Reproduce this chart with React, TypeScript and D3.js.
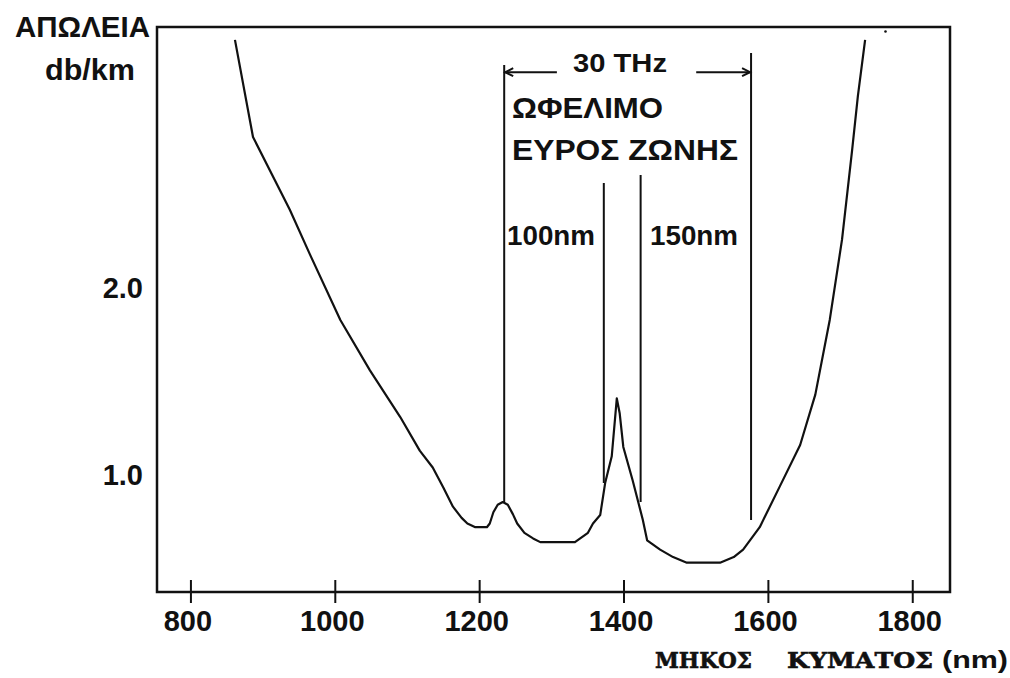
import React, { useEffect, useRef } from 'react';
import * as d3 from 'd3';

// attenuation curve of silica fibre, wavelength (nm) vs loss (dB/km)
const wavelength = [
  861, 886, 937, 965, 1007, 1048, 1090, 1117, 1135, 1150, 1163, 1175, 1183, 1194, 1210, 1214,
  1219, 1225, 1232, 1239, 1246, 1252, 1262, 1274, 1284, 1332, 1350, 1357, 1367, 1374, 1383,
  1390, 1394, 1399, 1412, 1426, 1432, 1450, 1468, 1487, 1533, 1552, 1565, 1588, 1616, 1644,
  1665, 1685, 1702, 1716, 1724, 1734
];
const loss = [
  3.33, 2.81, 2.42, 2.18, 1.83, 1.56, 1.31, 1.13, 1.04, 0.93, 0.83, 0.77, 0.74, 0.72, 0.72, 0.74,
  0.8, 0.84, 0.855, 0.84, 0.79, 0.74, 0.69, 0.66, 0.64, 0.64, 0.69, 0.74, 0.785, 0.96, 1.1,
  1.41, 1.33, 1.15, 0.97, 0.76, 0.65, 0.6, 0.56, 0.53, 0.53, 0.56, 0.6, 0.72, 0.94, 1.16,
  1.43, 1.83, 2.26, 2.74, 3.03, 3.33
];

const xTicks = [800, 1000, 1200, 1400, 1600, 1800];
const yTicks = [1.0, 2.0];

// vertical markers: wavelength, top, bottom (dB/km)
const markerNm = [1234, 1372, 1423, 1576];
const markerTop = [3.196, 2.564, 2.607, 3.26];
const markerBottom = [0.855, 0.957, 0.855, 0.759];

// 30 THz arrow, in data units
const arrowLevel = 3.157;
const arrowLeft = [1234, 1307];
const arrowRight = [1500, 1576];

const W = 1010;
const H = 678;
const frame = { left: 157, right: 950, top: 27, bottom: 592 };
const sans = '"Liberation Sans", Arial, sans-serif';
const slab = '"DejaVu Serif", serif';

export default function App() {
  const ref = useRef<SVGSVGElement | null>(null);

  useEffect(() => {
    document.body.style.margin = '0';
    const svg = d3.select(ref.current);
    svg.selectAll('*').remove();

    const x = d3.scaleLinear().domain([753, 1851.6]).range([frame.left, frame.right]);
    const y = d3.scaleLinear().domain([0.373, 3.399]).range([frame.bottom, frame.top]);

    svg.append('rect').attr('width', W).attr('height', H).attr('fill', '#fff');

    // frame
    svg
      .append('rect')
      .attr('x', frame.left)
      .attr('y', frame.top)
      .attr('width', frame.right - frame.left)
      .attr('height', frame.bottom - frame.top)
      .attr('fill', 'none')
      .attr('stroke', '#111')
      .attr('stroke-width', 2.5);

    // x ticks and labels
    const xt = svg.append('g');
    xt.selectAll('line')
      .data(xTicks)
      .enter()
      .append('line')
      .attr('x1', d => x(d))
      .attr('x2', d => x(d))
      .attr('y1', frame.bottom - 12)
      .attr('y2', frame.bottom + 11)
      .attr('stroke', '#111')
      .attr('stroke-width', 2);
    xt.selectAll('text')
      .data(xTicks)
      .enter()
      .append('text')
      .attr('x', d => x(d) - 3)
      .attr('y', 631)
      .attr('text-anchor', 'middle')
      .attr('font-family', sans)
      .attr('font-weight', 'bold')
      .attr('font-size', 29)
      .attr('fill', '#111')
      .text(d => d);

    // y labels (no tick marks)
    svg
      .append('g')
      .selectAll('text')
      .data(yTicks)
      .enter()
      .append('text')
      .attr('x', 143)
      .attr('y', d => y(d) + 10)
      .attr('text-anchor', 'end')
      .attr('font-family', sans)
      .attr('font-weight', 'bold')
      .attr('font-size', 29)
      .attr('fill', '#111')
      .text(d => d.toFixed(1));

    // curve
    const pts = wavelength.map((w, i) => [w, loss[i]] as [number, number]);
    svg
      .append('path')
      .attr('d', d3.line<[number, number]>().x(d => x(d[0])).y(d => y(d[1]))(pts))
      .attr('fill', 'none')
      .attr('stroke', '#111')
      .attr('stroke-width', 2.2)
      .attr('stroke-linejoin', 'round');

    // markers
    svg
      .append('g')
      .selectAll('line')
      .data(markerNm)
      .enter()
      .append('line')
      .attr('x1', d => x(d))
      .attr('x2', d => x(d))
      .attr('y1', (d, i) => y(markerTop[i]))
      .attr('y2', (d, i) => y(markerBottom[i]))
      .attr('stroke', '#111')
      .attr('stroke-width', 2);

    // arrow
    const ay = y(arrowLevel);
    const arrow = svg.append('g').attr('stroke', '#111').attr('stroke-width', 2).attr('fill', 'none');
    arrow.append('line').attr('x1', x(arrowLeft[0])).attr('x2', x(arrowLeft[1])).attr('y1', ay).attr('y2', ay);
    arrow.append('line').attr('x1', x(arrowRight[0])).attr('x2', x(arrowRight[1])).attr('y1', ay).attr('y2', ay);
    const lx = x(arrowLeft[0]);
    const rx = x(arrowRight[1]);
    arrow.append('path').attr('d', `M${lx + 9},${ay - 4} L${lx + 1},${ay} L${lx + 9},${ay + 4}`);
    arrow.append('path').attr('d', `M${rx - 9},${ay - 4} L${rx - 1},${ay} L${rx - 9},${ay + 4}`);

    const label = (
      t: string,
      px: number,
      py: number,
      size: number,
      len: number,
      family = sans,
      thick = 0
    ) =>
      svg
        .append('text')
        .attr('x', px)
        .attr('y', py)
        .attr('font-family', family)
        .attr('font-weight', 'bold')
        .attr('font-size', size)
        .attr('textLength', len)
        .attr('lengthAdjust', 'spacingAndGlyphs')
        .attr('fill', '#111')
        .attr('stroke', thick ? '#111' : 'none')
        .attr('stroke-width', thick)
        .text(t);

    label('30 THz', 573, 72, 25, 94);
    label('ΩΦΕΛΙΜΟ', 512, 118, 30, 151);
    label('ΕΥΡΟΣ ΖΩΝΗΣ', 512, 160, 30, 226);
    label('100nm', 507, 245, 28, 88);
    label('150nm', 650, 245, 28, 88);
    label('ΑΠΩΛΕΙΑ', 15, 37, 30, 135);
    label('db/km', 45, 80, 30, 90);
    label('ΜΗΚΟΣ', 655, 668, 23, 97, slab, 0.6);
    label('ΚΥΜΑΤΟΣ', 787, 668, 23, 146, slab, 0.6);
    label('(nm)', 942, 668, 24, 66);

    svg.append('circle').attr('cx', 885.5).attr('cy', 31.5).attr('r', 1.3).attr('fill', '#111');
  }, []);

  return <svg ref={ref} width={W} height={H} style={{ display: 'block' }} />;
}
